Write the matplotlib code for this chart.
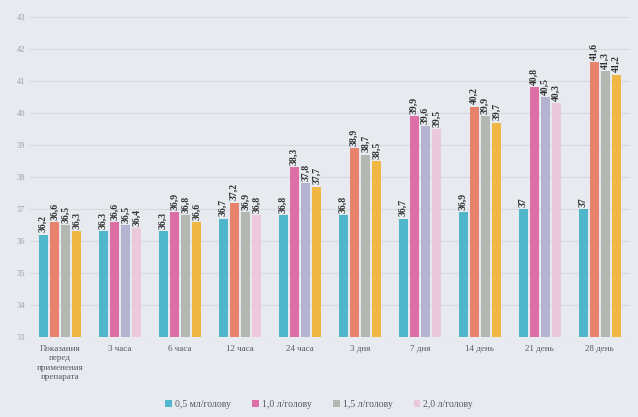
import matplotlib
matplotlib.use("Agg")
import matplotlib.pyplot as plt
import numpy as np
from matplotlib.patches import Patch

categories = ["Показания\nперед\nприменения\nпрепарата", "3 часа", "6 часа", "12 часа",
              "24 часа", "3 дня", "7 дня", "14 день", "21 день", "28 день"]
series_names = ["0,5 мл/голову", "1,0 л/голову", "1,5 л/голову", "2,0 л/голову"]
s05 = [36.2, 36.3, 36.3, 36.7, 36.8, 36.8, 36.7, 36.9, 37.0, 37.0]
s10 = [36.6, 36.6, 36.9, 37.2, 38.3, 38.9, 39.9, 40.2, 40.8, 41.6]
s15 = [36.5, 36.5, 36.8, 36.9, 37.8, 38.7, 39.6, 39.9, 40.5, 41.3]
s20 = [36.3, 36.4, 36.6, 36.8, 37.7, 38.5, 39.5, 39.7, 40.3, 41.2]
series = [s05, s10, s15, s20]

TEAL = "#4fb6cc"
SALMON = "#e9826c"
PINK = "#dc6fa6"
GRAY = "#b4b8b0"
LAV = "#b3b4cf"
YEL = "#f1b744"
LPINK = "#ecc9da"
bar_colors = [
    [TEAL] * 10,
    [SALMON, PINK, PINK, SALMON, PINK, SALMON, PINK, SALMON, PINK, SALMON],
    [GRAY, LAV, GRAY, GRAY, LAV, GRAY, LAV, GRAY, LAV, GRAY],
    [YEL, LPINK, YEL, LPINK, YEL, YEL, LPINK, YEL, LPINK, YEL],
]
legend_colors = [TEAL, PINK, GRAY, LPINK]

def fmt(v):
    if abs(v - round(v)) < 1e-9:
        return str(int(round(v)))
    return f"{v:.1f}".replace(".", ",")

serif = ["Liberation Serif", "DejaVu Serif"]
fig = plt.figure(figsize=(6.38, 4.17), dpi=100)
fig.patch.set_facecolor("#e7ebf0")
ax = fig.add_axes([0.047, 0.192, 0.94, 0.767])
ax.set_facecolor("#e7ebf0")

x = np.arange(len(categories))
w = 0.15
gap = 0.035
offsets = [(-1.5) * (w + gap), (-0.5) * (w + gap), 0.5 * (w + gap), 1.5 * (w + gap)]
for i, vals in enumerate(series):
    for j, v in enumerate(vals):
        ax.bar(x[j] + offsets[i], v - 33, bottom=33, width=w, color=bar_colors[i][j], zorder=3)
        ax.text(x[j] + offsets[i], v + 0.07, fmt(v), rotation=90, ha="center", va="bottom",
                fontsize=7, fontweight="bold", family=serif, color="#333333", zorder=4)

ax.set_ylim(33, 43)
ax.set_xlim(-0.5, len(categories) - 0.5)
ax.set_yticks(range(33, 44))
ax.tick_params(axis="y", labelsize=6, colors="#9a9ea6", length=0)
ax.tick_params(axis="x", length=0, pad=6)
ax.set_xticks(x)
ax.set_xticklabels(categories, fontsize=6.5, family=serif, color="#555a63")
for lab in ax.get_yticklabels():
    lab.set_family(serif)
ax.grid(axis="y", color="#d6dae0", linewidth=0.8, zorder=0)
for s in ["top", "right", "left", "bottom"]:
    ax.spines[s].set_visible(False)

handles = [Patch(facecolor=c, edgecolor="none") for c in legend_colors]
leg = fig.legend(handles, series_names, loc="center", bbox_to_anchor=(0.5, 0.03), ncol=4,
                 frameon=False, prop={"family": serif, "size": 7}, handlelength=0.7,
                 handleheight=0.7, columnspacing=2.2, handletextpad=0.3)
for t in leg.get_texts():
    t.set_color("#555a63")

fig.savefig("out.png", dpi=100, facecolor=fig.get_facecolor())
